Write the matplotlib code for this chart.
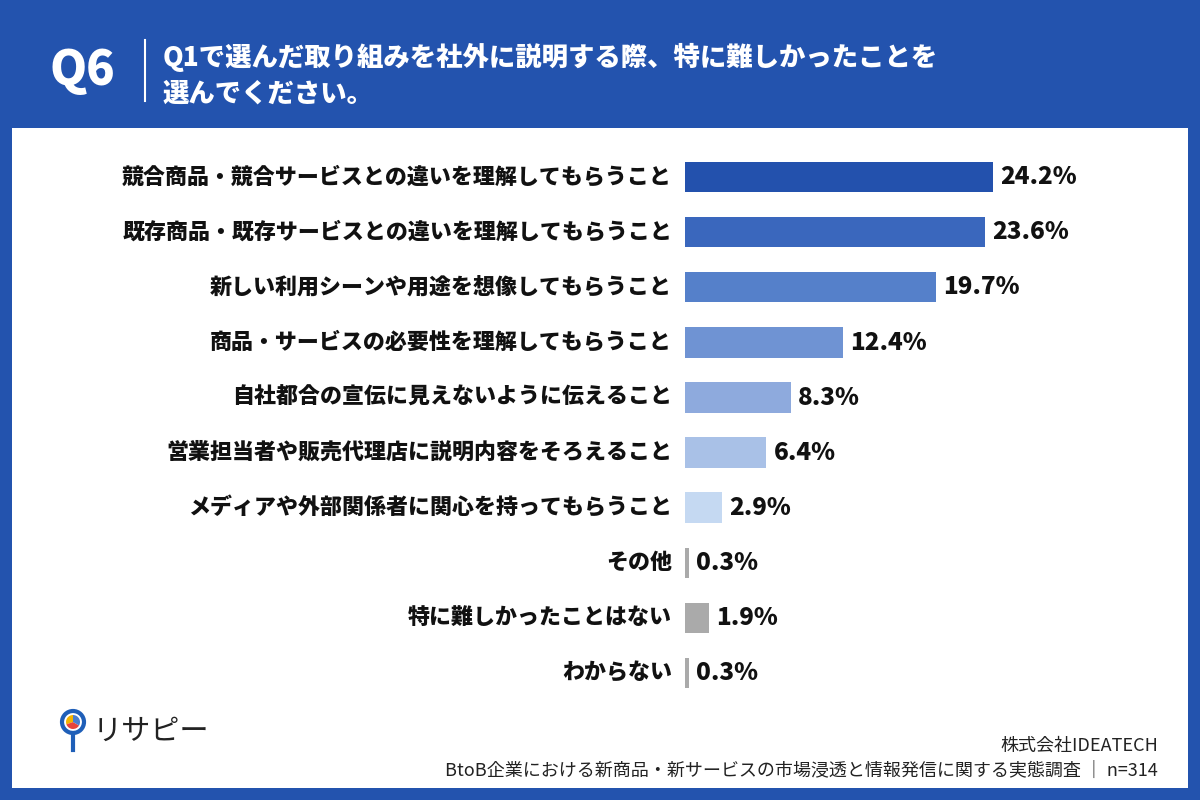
import matplotlib.pyplot as plt
from matplotlib.patches import Rectangle, Circle, Wedge
from matplotlib.lines import Line2D

plt.rcParams['font.family'] = ['Noto Sans CJK JP', 'DejaVu Sans']

categories = [
    "競合商品・競合サービスとの違いを理解してもらうこと",
    "既存商品・既存サービスとの違いを理解してもらうこと",
    "新しい利用シーンや用途を想像してもらうこと",
    "商品・サービスの必要性を理解してもらうこと",
    "自社都合の宣伝に見えないように伝えること",
    "営業担当者や販売代理店に説明内容をそろえること",
    "メディアや外部関係者に関心を持ってもらうこと",
    "その他",
    "特に難しかったことはない",
    "わからない",
]
values = [24.2, 23.6, 19.7, 12.4, 8.3, 6.4, 2.9, 0.3, 1.9, 0.3]
bar_colors = ["#2351ad", "#3a67bd", "#5580ca", "#6f93d3", "#8eaadd",
              "#a9c1e7", "#c5d9f2", "#aaaaaa", "#aaaaaa", "#aaaaaa"]

title_q = "Q6"
title_lines = "Q1で選んだ取り組みを社外に説明する際、特に難しかったことを\n選んでください。"
footer1 = "株式会社IDEATECH"
footer2 = "BtoB企業における新商品・新サービスの市場浸透と情報発信に関する実態調査 ｜ n=314"

W, H = 1200, 800
BLUE = "#2353ae"

fig = plt.figure(figsize=(12, 8), dpi=100)
fig.patch.set_facecolor(BLUE)

def fx(x):
    return x / W

def fy(y):
    return 1 - y / H

# white panel
fig.patches.append(Rectangle((fx(12), fy(788)), fx(1188) - fx(12), fy(128) - fy(788),
                             transform=fig.transFigure, facecolor="white",
                             edgecolor="none", zorder=-10))

# header
fig.text(fx(49), fy(71), title_q, color="white", fontsize=34, fontweight="black",
         va="center", ha="left")
fig.lines.append(Line2D([fx(145), fx(145)], [fy(40), fy(101)], transform=fig.transFigure,
                        color="white", linewidth=1.5))
fig.text(fx(163), fy(75), title_lines, color="white", fontsize=19, fontweight="black",
         va="center", ha="left", linespacing=1.3)

# chart axes
ax = fig.add_axes([fx(685), fy(700.5), fx(1185) - fx(685), fy(149.5) - fy(700.5)])
ax.set_facecolor("none")
ypos = list(range(len(categories)))
ax.barh(ypos, values, height=0.55, color=bar_colors, edgecolor="none")
ax.set_xlim(0, 500 / 12.73)
ax.set_ylim(len(categories) - 0.5, -0.5)
ax.axis("off")

for i, (c, v) in enumerate(zip(categories, values)):
    ax.text(-13 / 12.73, i, c, ha="right", va="center", fontsize=15.8,
            fontweight="black", color="#111111")
    ax.text(v + 7 / 12.73, i, f"{v}%", ha="left", va="center", fontsize=17.5,
            fontweight="black", color="#111111")

# logo
lax = fig.add_axes([fx(55), fy(755), fx(40), fy(0) - fy(50)])
lax.set_xlim(0, 40)
lax.set_ylim(0, 50)
lax.set_aspect("equal")
lax.axis("off")
lax.add_patch(Circle((18, 33), 11, facecolor="white", edgecolor="#1f5fb8", linewidth=3))
lax.add_patch(Wedge((18, 33), 7, 90, 200, facecolor="#f4b400"))
lax.add_patch(Wedge((18, 33), 7, 200, 330, facecolor="#e8453c"))
lax.add_patch(Wedge((18, 33), 7, 330, 90, facecolor="#4a7fd0"))
lax.plot([18, 18], [22, 5], color="#1f5fb8", linewidth=3)
fig.text(fx(93), fy(732), "リサピー", fontsize=21, color="#222222", va="center", ha="left")

# footer
fig.text(fx(1158), fy(746), footer1, fontsize=13, color="#222222", ha="right", va="center")
fig.text(fx(1158), fy(771), footer2, fontsize=13, color="#222222", ha="right", va="center")

fig.savefig("out.png", dpi=100, facecolor=BLUE)
